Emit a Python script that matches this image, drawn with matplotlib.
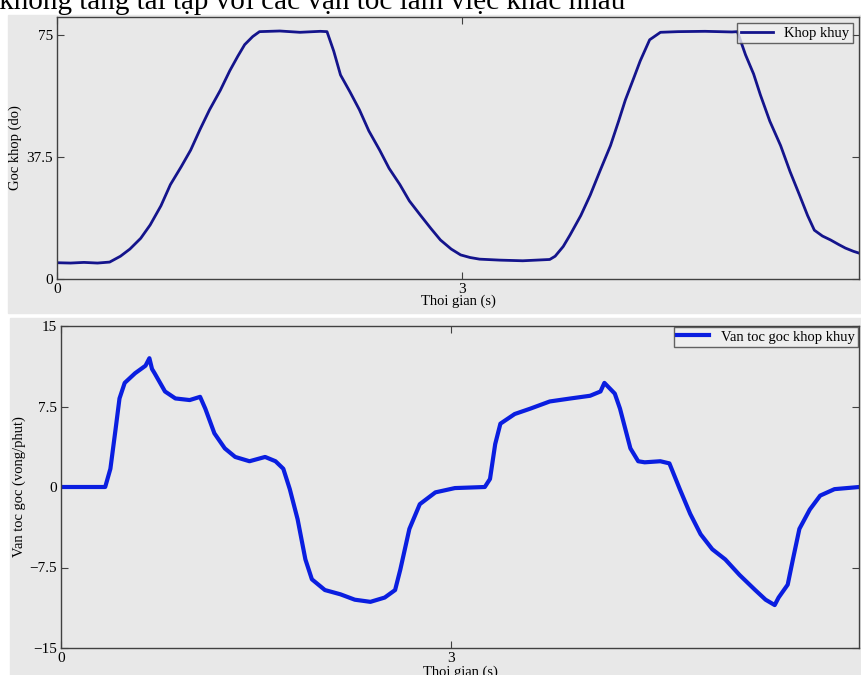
import numpy as np
import matplotlib
matplotlib.use("Agg")
import matplotlib.pyplot as plt
from matplotlib.patches import Rectangle

plt.rcParams['font.family'] = ['Liberation Serif', 'DejaVu Serif']

# --- data ---
# goc khop (do)
t_goc = [0.00, 0.10, 0.20, 0.30, 0.39, 0.47, 0.54, 0.62, 0.69, 0.77, 0.84, 0.92,
         0.99, 1.06, 1.13, 1.21, 1.28, 1.34, 1.39, 1.45, 1.50, 1.65, 1.80, 1.95,
         2.00, 2.05, 2.10, 2.17, 2.24, 2.31, 2.39, 2.46, 2.54, 2.61, 2.69, 2.77,
         2.84, 2.92, 2.99, 3.06, 3.13, 3.28, 3.45, 3.60, 3.65, 3.69, 3.75, 3.80,
         3.88, 3.95, 4.02, 4.10, 4.16, 4.21, 4.27, 4.32, 4.39, 4.47, 4.60, 4.80,
         5.00, 5.04, 5.10, 5.16, 5.21, 5.28, 5.36, 5.43, 5.50, 5.56, 5.61, 5.67,
         5.73, 5.79, 5.84, 5.90, 5.96]
goc = [5.0, 4.9, 5.1, 4.9, 5.2, 7.0, 9.2, 12.5, 16.6, 22.5, 29.0, 34.5,
       39.6, 46.0, 52.0, 58.0, 64.0, 68.5, 72.0, 74.5, 76.0, 76.2, 75.8, 76.1,
       76.0, 70.0, 62.7, 57.5, 52.0, 45.5, 39.6, 34.0, 29.0, 24.0, 19.7, 15.5,
       12.0, 9.2, 7.4, 6.6, 6.1, 5.8, 5.6, 5.9, 6.0, 7.0, 10.0, 13.5,
       19.5, 25.8, 33.0, 41.0, 48.5, 55.0, 61.5, 67.0, 73.5, 75.8, 76.0, 76.1,
       75.9, 76.0, 68.9, 63.0, 56.6, 48.5, 41.0, 33.0, 25.8, 19.5, 15.0, 13.2,
       12.0, 10.6, 9.5, 8.5, 7.7]

# van toc goc (vong/phut)
t_vt = [0.00, 0.20, 0.34, 0.38, 0.42, 0.45, 0.49, 0.57, 0.65, 0.68, 0.70, 0.72,
        0.80, 0.88, 0.99, 1.07, 1.11, 1.18, 1.26, 1.34, 1.45, 1.57, 1.65, 1.71,
        1.76, 1.82, 1.88, 1.93, 2.03, 2.15, 2.26, 2.38, 2.49, 2.57, 2.61, 2.68,
        2.76, 2.88, 3.03, 3.26, 3.30, 3.34, 3.38, 3.49, 3.61, 3.76, 3.92, 4.07,
        4.15, 4.18, 4.26, 4.30, 4.38, 4.44, 4.49, 4.61, 4.68, 4.76, 4.84, 4.92,
        5.01, 5.11, 5.22, 5.34, 5.42, 5.49, 5.52, 5.59, 5.63, 5.68, 5.76, 5.84,
        5.95, 6.14]
van_toc = [0.0, 0.0, 0.0, 1.7, 5.4, 8.25, 9.7, 10.6, 11.3, 12.0, 11.0, 10.6,
           8.9, 8.25, 8.1, 8.4, 7.3, 5.0, 3.6, 2.8, 2.4, 2.8, 2.4, 1.7,
           -0.2, -3.0, -6.75, -8.6, -9.6, -10.0, -10.5, -10.7, -10.3, -9.6, -7.7, -3.9,
           -1.6, -0.5, -0.1, 0.0, 0.75, 4.0, 5.9, 6.8, 7.3, 7.97, 8.25, 8.5,
           8.9, 9.7, 8.7, 7.3, 3.6, 2.4, 2.3, 2.4, 2.2, -0.2, -2.5, -4.4,
           -5.8, -6.75, -8.2, -9.6, -10.5, -11.0, -10.3, -9.1, -6.75, -3.9, -2.1, -0.8,
           -0.2, 0.0]

W, H = 861, 675
bg = '#e8e8e8'

fig = plt.figure(figsize=(W / 100, H / 100), dpi=100)

def px(x0, y0, x1, y1):
    # pixel box (top-left origin) -> figure fraction
    return [x0 / W, 1 - y1 / H, (x1 - x0) / W, (y1 - y0) / H]

# gray panel backgrounds
fig.patches.append(Rectangle((8 / W, 1 - 313 / H), (W - 8) / W, 298 / H,
                             transform=fig.transFigure, color=bg, zorder=-5))
fig.patches.append(Rectangle((10 / W, 0), (W - 10) / W, (H - 318) / H,
                             transform=fig.transFigure, color=bg, zorder=-5))

# cut caption line at the top
fig.text(625 / W, 1 - 9 / H, 'khớp không tăng tải tập với các vận tốc làm việc khác nhau',
         ha='right', va='baseline', fontsize=21, color='black')


def style(ax):
    ax.set_facecolor(bg)
    for s in ax.spines.values():
        s.set_color('#404040')
        s.set_linewidth(1.0)
    ax.tick_params(direction='in', length=5, width=0.8, colors='#404040',
                   labelcolor='black', labelsize=11, top=True, right=True, pad=3)


ax1 = fig.add_axes(px(57, 17, 859, 279))
ax1.plot(t_goc, goc, color='#14148c', lw=2, label='Khop khuy')
ax1.set_xlim(0, 802 / 135)
ax1.set_ylim(0, 80.5)
ax1.set_xticks([0, 3])
ax1.set_yticks([0, 37.5, 75])
ax1.set_yticklabels(['0', '37.5', '75'])
ax1.set_xlabel('Thoi gian (s)', fontsize=10.5, labelpad=-1)
ax1.set_ylabel('Goc khop (do)', fontsize=10.5, labelpad=3)
style(ax1)
leg1 = ax1.legend(loc='upper right', fontsize=10.5, frameon=True, fancybox=False,
                  borderaxespad=0.4, handlelength=2.2, borderpad=0.25)
leg1.get_frame().set_edgecolor('#404040')
leg1.get_frame().set_facecolor('#f0f0f0')

ax2 = fig.add_axes(px(61, 326, 859, 648))
ax2.plot(t_vt, van_toc, color='#0a1ee0', lw=3, label='Van toc goc khop khuy')
ax2.set_xlim(0, 798 / 130)
ax2.set_ylim(-15, 15)
ax2.set_xticks([0, 3])
ax2.set_yticks([-15, -7.5, 0, 7.5, 15])
ax2.set_yticklabels(['\u221215', '\u22127.5', '0', '7.5', '15'])
ax2.set_xlabel('Thoi gian (s)', fontsize=10.5, labelpad=0)
ax2.set_ylabel('Van toc goc (vong/phut)', fontsize=10.5, labelpad=2)
style(ax2)
leg2 = ax2.legend(loc='upper right', fontsize=10.5, frameon=True, fancybox=False,
                  borderaxespad=0.1, handlelength=2.2, borderpad=0.2)
leg2.get_frame().set_edgecolor('#404040')
leg2.get_frame().set_facecolor('#f0f0f0')

plt.savefig('out.png', dpi=100)
